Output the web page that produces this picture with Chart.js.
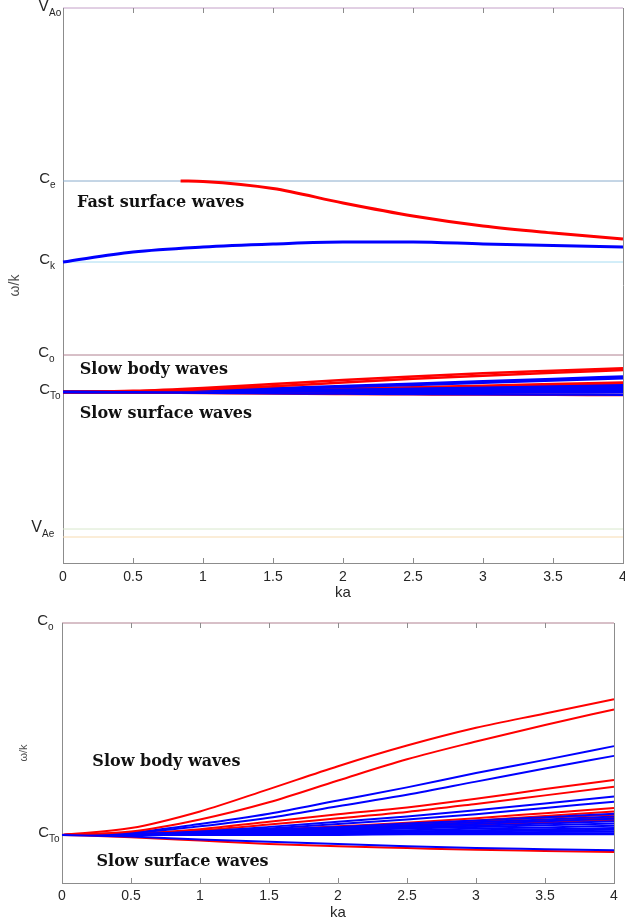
<!DOCTYPE html>
<html>
<head>
<meta charset="utf-8">
<script src="https://cdn.jsdelivr.net/npm/chart.js@4.4.0/dist/chart.umd.min.js"></script>
<style>
body { margin: 0; background: #fff; width: 625px; height: 922px; overflow: hidden; }
#topChart { position: absolute; left: 0; top: 0; }
#bottomChart { position: absolute; left: 0; top: 605px; }
</style>
</head>
<body>
<canvas id="topChart" width="625" height="605"></canvas>
<canvas id="bottomChart" width="625" height="317"></canvas>
<script>
// ka grid shared by all slow-mode curves
var ka = [0, 0.5, 1, 1.5, 2, 2.5, 3, 3.5, 4];

// characteristic speeds (tick labels on the y axis)
var speedNames = ['V', 'C', 'C', 'C', 'C', 'V'];
var speedSubs = ['Ao', 'e', 'k', 'o', 'To', 'Ae'];
var speedValues = [5.55, 3.82, 3.01, 2.08, 1.71, 0.34];
var speedColors = ['#c4a0c8', '#8aaccc', '#a6dcf2', '#b08090', null, '#d8e8cc'];
var lowLine = 0.26; // unlabeled orange line under V_Ae

// fast surface waves
var fastRedKa = [0.84, 1, 1.5, 2, 2.5, 3, 3.5, 4];
var fastRed = [3.82, 3.815, 3.745, 3.60, 3.47, 3.37, 3.30, 3.24];
var fastBlue = [3.01, 3.11, 3.16, 3.19, 3.21, 3.21, 3.19, 3.175, 3.16];

// slow body waves
var bodyRed = [
  [1.710, 1.722, 1.751, 1.790, 1.830, 1.866, 1.897, 1.922, 1.947],
  [1.710, 1.716, 1.737, 1.767, 1.805, 1.842, 1.873, 1.902, 1.929],
  [1.710, 1.712, 1.720, 1.733, 1.746, 1.758, 1.773, 1.790, 1.806],
  [1.710, 1.712, 1.718, 1.728, 1.739, 1.750, 1.764, 1.779, 1.794],
  [1.710, 1.711, 1.714, 1.719, 1.725, 1.731, 1.739, 1.748, 1.757],
  [1.710, 1.711, 1.713, 1.717, 1.722, 1.728, 1.735, 1.743, 1.751],
  [1.710, 1.711, 1.714, 1.718, 1.723, 1.729, 1.734, 1.740, 1.745],
  [1.710, 1.711, 1.714, 1.717, 1.721, 1.726, 1.730, 1.735, 1.740],
  [1.710, 1.711, 1.713, 1.716, 1.720, 1.724, 1.728, 1.732, 1.736]
];
var bodyBlue = [
  [1.710, 1.714, 1.729, 1.747, 1.770, 1.793, 1.818, 1.841, 1.865],
  [1.710, 1.713, 1.725, 1.740, 1.760, 1.780, 1.803, 1.826, 1.848],
  [1.710, 1.711, 1.716, 1.724, 1.733, 1.742, 1.753, 1.765, 1.777],
  [1.710, 1.711, 1.715, 1.721, 1.729, 1.737, 1.746, 1.757, 1.768],
  [1.710, 1.711, 1.714, 1.719, 1.724, 1.730, 1.735, 1.741, 1.747],
  [1.710, 1.711, 1.714, 1.718, 1.722, 1.727, 1.732, 1.737, 1.742],
  [1.710, 1.711, 1.713, 1.717, 1.721, 1.725, 1.729, 1.734, 1.738],
  [1.710, 1.711, 1.713, 1.716, 1.719, 1.723, 1.726, 1.730, 1.734],
  [1.710, 1.711, 1.712, 1.715, 1.718, 1.721, 1.724, 1.727, 1.730],
  [1.710, 1.710, 1.712, 1.714, 1.716, 1.718, 1.721, 1.723, 1.726],
  [1.710, 1.710, 1.711, 1.713, 1.715, 1.716, 1.718, 1.720, 1.722],
  [1.710, 1.710, 1.711, 1.712, 1.713, 1.715, 1.716, 1.718, 1.719],
  [1.710, 1.710, 1.711, 1.711, 1.712, 1.713, 1.714, 1.715, 1.716],
  [1.710, 1.710, 1.710, 1.711, 1.711, 1.712, 1.712, 1.713, 1.713],
  [1.710, 1.710, 1.710, 1.710, 1.710, 1.711, 1.711, 1.711, 1.711]
];

// slow surface waves
var surfaceBlue = [1.710, 1.707, 1.702, 1.698, 1.694, 1.690, 1.687, 1.685, 1.683];
var surfaceRed = [1.710, 1.706, 1.700, 1.694, 1.690, 1.687, 1.684, 1.682, 1.680];

var RED = '#ff0000', BLUE = '#0000ff';
var SANS = '"Liberation Sans", Arial, sans-serif';

function curve(xs, ys, color, width) {
  return {
    data: ys.map(function (v, i) { return { x: xs[i], y: v }; }),
    borderColor: color,
    borderWidth: width,
    pointRadius: 0,
    fill: false,
    cubicInterpolationMode: 'monotone'
  };
}

function hline(v, color) {
  return { data: [{ x: 0, y: v }, { x: 4, y: v }], borderColor: color, borderWidth: 1, pointRadius: 0 };
}

function slowSets(width) {
  var sets = [];
  sets.push(curve(ka, surfaceBlue, BLUE, width));
  sets.push(curve(ka, surfaceRed, RED, width));
  for (var i = 0; i < 2; i++) sets.push(curve(ka, bodyRed[i], RED, width));
  for (var j = 0; j < bodyBlue.length; j++) sets.push(curve(ka, bodyBlue[j], BLUE, width));
  for (var n = 2; n < bodyRed.length; n++) sets.push(curve(ka, bodyRed[n], RED, width));
  return sets;
}

function refLines(ymin, ymax) {
  var sets = [];
  for (var i = 0; i < speedValues.length; i++) {
    if (speedColors[i] && speedValues[i] >= ymin - 1e-9 && speedValues[i] <= ymax + 1e-9) {
      sets.push(hline(speedValues[i], speedColors[i]));
    }
  }
  if (lowLine >= ymin) sets.push(hline(lowLine, '#f7dbb0'));
  return sets;
}

var speedPlugin = {
  id: 'speeds',
  afterDraw: function (chart, args, opts) {
    var c = chart.ctx, a = chart.chartArea, ys = chart.scales.y, xs = chart.scales.x;
    c.save();
    // right edge and inward tick marks
    c.strokeStyle = '#8c8c8c';
    c.lineWidth = 1;
    c.beginPath();
    c.moveTo(Math.round(a.right) + 0.5, a.top);
    c.lineTo(Math.round(a.right) + 0.5, a.bottom);
    xs.ticks.forEach(function (t) {
      var px = Math.round(xs.getPixelForValue(t.value)) + 0.5;
      c.moveTo(px, a.bottom); c.lineTo(px, a.bottom - 5);
      c.moveTo(px, a.top); c.lineTo(px, a.top + 5);
    });
    c.stroke();

    // speed labels with subscripts
    c.fillStyle = '#262626';
    c.textBaseline = 'alphabetic';
    var shifts = opts.shifts;
    for (var i = 0; i < speedValues.length; i++) {
      var v = speedValues[i];
      if (v < ys.min - 1e-9 || v > ys.max + 1e-9) continue;
      var py = ys.getPixelForValue(v);
      var xr = a.left + shifts[i];
      var big = speedNames[i] === 'V';
      c.font = (big ? 16 : 15) + 'px ' + SANS;
      c.textAlign = 'right';
      c.fillText(speedNames[i], xr, py + (big ? 3 : 2));
      c.font = '10px ' + SANS;
      c.textAlign = 'left';
      c.fillText(speedSubs[i], xr, py + (big ? 8 : 7));
    }

    // region annotations
    c.fillStyle = '#111';
    c.font = 'bold 16px "DejaVu Serif", "Liberation Serif", serif';
    c.textAlign = 'left';
    c.textBaseline = 'middle';
    opts.notes.forEach(function (nt) {
      c.fillText(nt.text, xs.getPixelForValue(nt.x), ys.getPixelForValue(nt.y));
    });
    c.restore();
  }
};

function options(ymin, ymax, pad, xHeight, yWidth, tickPad, titlePad, yTitleSize, yTitlePad, notes) {
  return {
    responsive: false,
    animation: false,
    devicePixelRatio: 1,
    layout: { padding: pad },
    plugins: {
      legend: { display: false },
      tooltip: { enabled: false },
      speeds: { notes: notes, shifts: [-14, -13, -13, -14, -13, -21] }
    },
    scales: {
      x: {
        type: 'linear', min: 0, max: 4,
        afterFit: function (s) { s.height = xHeight; s.paddingLeft = 0; s.paddingRight = 0; },
        grid: { display: false, drawTicks: false },
        border: { display: true, color: '#8c8c8c' },
        ticks: {
          stepSize: 0.5, padding: tickPad, color: '#262626', maxRotation: 0,
          font: { family: SANS, size: 14 },
          callback: function (v) { return String(v); }
        },
        title: { display: true, text: 'ka', color: '#262626', padding: { top: titlePad, bottom: titlePad }, font: { family: SANS, size: 15 } }
      },
      y: {
        type: 'linear', min: ymin, max: ymax,
        afterFit: function (s) { s.width = yWidth; },
        grid: { display: false, drawTicks: false },
        border: { display: true, color: '#8c8c8c' },
        ticks: { display: false },
        title: { display: true, text: 'ω/k', color: '#4d4d4d', padding: { top: yTitlePad, bottom: 0 }, font: { family: SANS, size: yTitleSize } }
      }
    }
  };
}

var topSets = [
  curve(fastRedKa, fastRed, RED, 3),
  curve(ka, fastBlue, BLUE, 3)
].concat(slowSets(2.5)).concat(refLines(0, 5.55));
topSets.forEach(function (d) { d.clip = 4; });

new Chart(document.getElementById('topChart').getContext('2d'), {
  type: 'line',
  data: { datasets: topSets },
  options: options(0, 5.55, { top: 8, right: 2, left: 0, bottom: 0 }, 42, 63, 6, 3, 14, 7, [
    { text: 'Fast surface waves', x: 0.1, y: 3.60 },
    { text: 'Slow body waves', x: 0.12, y: 1.93 },
    { text: 'Slow surface waves', x: 0.12, y: 1.49 }
  ]),
  plugins: [speedPlugin]
});

var bottomSets = slowSets(2).concat(refLines(1.626, 2.08));
bottomSets.forEach(function (d) { d.clip = 4; });

new Chart(document.getElementById('bottomChart').getContext('2d'), {
  type: 'line',
  data: { datasets: bottomSets },
  options: options(1.626, 2.08, { top: 18, right: 11, left: 0, bottom: 0 }, 39, 62, 5, 0, 11, 17, [
    { text: 'Slow body waves', x: 0.22, y: 1.837 },
    { text: 'Slow surface waves', x: 0.25, y: 1.663 }
  ]),
  plugins: [speedPlugin]
});
</script>
</body>
</html>
